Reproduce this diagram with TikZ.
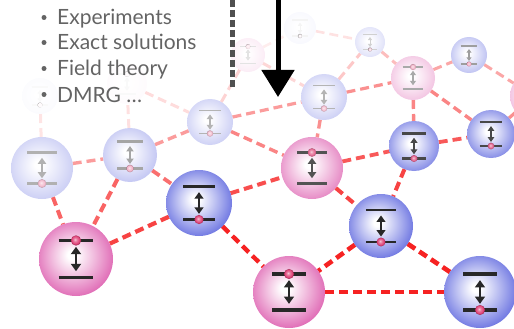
\documentclass[tikz,border=0pt]{standalone}
\usepackage{fontspec}
\usetikzlibrary{arrows.meta}
\newfontfamily\labelfont{Lato}

\definecolor{siteblue}{RGB}{112,120,226}
\definecolor{sitepink}{RGB}{224,108,182}
\definecolor{barink}{RGB}{40,40,40}
\definecolor{dotink}{RGB}{222,62,116}
\definecolor{bondred}{RGB}{246,34,34}
\definecolor{listgray}{RGB}{100,100,100}
\definecolor{guidegray}{RGB}{80,80,80}

% sphere-like shading: white core, coloured rim
\pgfdeclareradialshading[sphout]{sphere}{\pgfpoint{-3bp}{3bp}}{%
  color(0bp)=(white); color(3bp)=(white);
  color(14bp)=(sphout!45!white); color(27bp)=(sphout); color(50bp)=(sphout)}
% small occupied-level marker
\pgfdeclareradialshading[dotcol]{dotsh}{\pgfpoint{-5bp}{5bp}}{%
  color(0bp)=(dotcol!30!white); color(9bp)=(dotcol!70!white);
  color(20bp)=(dotcol); color(25bp)=(dotcol!65!black); color(50bp)=(dotcol!65!black)}

\pgfdeclarelayer{bg}
\pgfsetlayers{bg,main}

\tikzset{
  site/.style={circle, inner sep=0pt, outer sep=0pt, shading=sphere},
  bond/.style={dash pattern=on 9pt off 5pt},
  listtext/.style={anchor=base west, inner sep=0pt, text=listgray,
    font=\labelfont\fontsize{21}{21}\selectfont},
}

% \qsite{name}{x}{y}{radius}{colour}{strength}{+1 upper / -1 lower level filled}
\newcommand\qsite[7]{%
  \colorlet{sphout}{#5!#6!white}%
  \colorlet{barcol}{barink!#6!white}%
  \colorlet{dotcol}{dotink!#6!white}%
  \node[site, minimum size={2*#4pt}] (#1) at (#2,#3) {};%
  \pgfmathsetmacro\barw{0.085*#4}%
  \pgfmathsetmacro\shaftw{0.06*#4}%
  \pgfmathsetmacro\tipl{0.2*#4}%
  \pgfmathsetmacro\tipw{0.27*#4}%
  \begin{scope}[shift={(#1.center)}, x=#4pt, y=#4pt]
    \draw[barcol, line width=\barw pt] (-0.47,0.5) -- (0.47,0.5);
    \draw[barcol, line width=\barw pt] (-0.47,-0.5) -- (0.47,-0.5);
    \draw[barcol, line width=\shaftw pt,
      {Triangle[length=\tipl pt,width=\tipw pt]}-{Triangle[length=\tipl pt,width=\tipw pt]}]
      (0,0.33) -- (0,-0.33);
    \shade[shading=dotsh] (0,0.5*#7) circle (0.14);
  \end{scope}}

% \bond{from}{to}{strength}{width}
\newcommand\bond[4]{\draw[bond, draw=bondred!#3!white, line width=#4pt] (#1) -- (#2);}

\begin{document}
\begin{tikzpicture}[x=1pt, y=-1pt]
\useasboundingbox (0,0) rectangle (514,329);

% lattice sites, far ones first
\qsite{S1}{40}{96}{18}{siteblue}{3}{-1}
\qsite{S2}{127}{84}{20}{sitepink}{3}{1}
\qsite{Q}{300}{28}{16}{siteblue}{5}{-1}
\qsite{P}{248}{55}{17}{sitepink}{13}{1}
\qsite{M}{370}{42}{15}{siteblue}{22}{-1}
\qsite{O}{469}{55}{18}{siteblue}{45}{-1}
\qsite{N}{413}{78}{22}{sitepink}{40}{1}
\qsite{R}{534}{96}{24}{sitepink}{45}{1}
\qsite{L}{324}{97}{23}{siteblue}{35}{-1}
\qsite{C}{210}{122}{23}{siteblue}{35}{-1}
\qsite{B}{130}{155}{27}{siteblue}{42}{-1}
\qsite{A}{42}{168}{31}{siteblue}{36}{-1}
\qsite{H}{491}{134}{24}{siteblue}{85}{-1}
\qsite{G}{414}{146}{25}{siteblue}{85}{-1}
\qsite{F}{312}{168}{31}{sitepink}{80}{1}
\qsite{D}{199}{203}{33}{siteblue}{100}{-1}
\qsite{I}{381}{226}{32}{siteblue}{100}{-1}
\qsite{E}{76}{259}{37}{sitepink}{100}{1}
\qsite{J}{289}{292}{36}{sitepink}{100}{1}
\qsite{K}{480}{292}{36}{siteblue}{100}{-1}

% couplings between sites
\begin{pgfonlayer}{bg}
  \bond{P}{Q}{8}{2.6}
  \bond{Q}{M}{13}{2.6}
  \bond{P}{L}{18}{3}
  \bond{C}{P}{20}{3}
  \bond{A}{S1}{12}{3}
  \bond{B}{S2}{14}{3}
  \bond{S2}{C}{16}{3}
  \bond{L}{M}{25}{3}
  \bond{M}{N}{30}{3}
  \bond{N}{O}{40}{3}
  \bond{O}{R}{40}{3}
  \bond{L}{N}{50}{3.2}
  \bond{A}{B}{45}{3.4}
  \bond{B}{C}{45}{3.4}
  \bond{C}{L}{45}{3.2}
  \bond{C}{F}{55}{3.4}
  \bond{L}{F}{50}{3.4}
  \bond{N}{G}{55}{3.4}
  \bond{N}{H}{55}{3.4}
  \bond{H}{R}{50}{3.2}
  \bond{B}{D}{65}{3.8}
  \bond{F}{G}{75}{3.8}
  \bond{G}{H}{75}{3.8}
  \bond{A}{E}{70}{4}
  \bond{B}{E}{70}{4}
  \bond{D}{E}{85}{4.2}
  \bond{D}{F}{80}{4}
  \bond{F}{I}{85}{4}
  \bond{G}{I}{85}{4}
  \bond{D}{J}{100}{4.4}
  \bond{I}{J}{100}{4.6}
  \bond{I}{K}{100}{4.6}
  \bond{J}{K}{100}{4.6}
\end{pgfonlayer}

% list of methods
\foreach \yb/\txt [count=\k] in {25/Experiments, 50/Exact solutions, 76/Field theory, 102/DMRG …}{
  \fill[listgray] (44,\yb-7.5) circle (2.5);
  \node[listtext] (item\k) at (57,\yb) {\txt};
}

% dashed separator and the big arrow
\coordinate (guidetop) at (232,0);
\coordinate (guidebot) at (232,90);
\draw[draw=guidegray, line width=5pt, dash pattern=on 7pt off 3pt] (guidetop) -- (guidebot);
\coordinate (arrtop) at (278,-2);
\coordinate (arrtip) at (278,97);
\draw[black, line width=5pt, -{Triangle[length=27pt,width=32pt]}] (arrtop) -- (arrtip);
\end{tikzpicture}
\end{document}
